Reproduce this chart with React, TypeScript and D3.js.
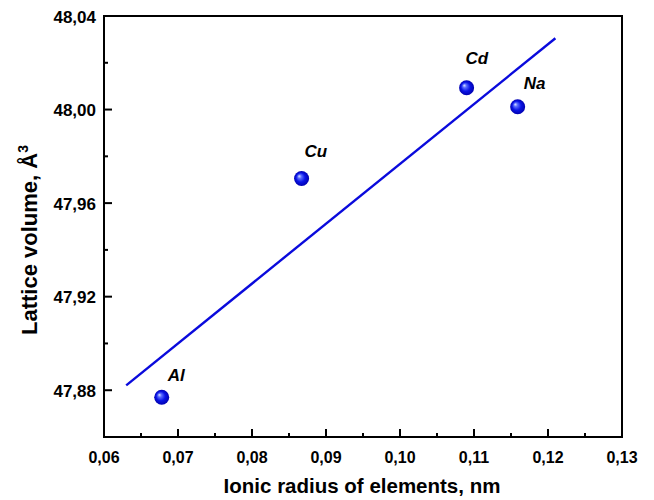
import React from "react";
import * as d3 from "d3";

// ---- data ----
const elements = ["Al", "Cu", "Cd", "Na"];
const ionicRadius = [0.0678, 0.0867, 0.109, 0.1159];
const latticeVolume = [47.877, 47.9705, 48.0093, 48.0012];
const fitX = [0.063, 0.121];
const fitY = [47.8821, 48.0305];
const xTicks = [0.06, 0.07, 0.08, 0.09, 0.1, 0.11, 0.12, 0.13];
const xMinorTicks = [0.065, 0.075, 0.085, 0.095, 0.105, 0.115, 0.125];
const yTicks = [47.88, 47.92, 47.96, 48.0, 48.04];
const yMinorTicks = [47.86, 47.9, 47.94, 47.98, 48.02];

// label offsets (layout)
const labelDx = [6, 3, -1, 6];
const labelDy = [-16, -22, -24, -18];

const W = 654;
const H = 500;
const left = 104;
const right = 622;
const top = 16;
const bottom = 437;
const FONT = "'Liberation Sans', Arial, Helvetica, sans-serif";

const fmt = (v: number) => d3.format(".2f")(v).replace(".", ",");

export default function App() {
  const x = d3.scaleLinear().domain([0.06, 0.13]).range([left, right]);
  const y = d3.scaleLinear().domain([47.86, 48.04]).range([bottom, top]);
  const line = d3
    .line<number>()
    .x((d) => x(d))
    .y((_, i) => y(fitY[i]));

  return (
    <svg
      width={W}
      height={H}
      style={{ position: "absolute", left: 0, top: 0, background: "#fff" }}
      fontFamily={FONT}
    >
      <defs>
        <radialGradient id="ball" cx="0.5" cy="0.5" r="0.5" fx="0.33" fy="0.33">
          <stop offset="0" stopColor="#e0e8ff" />
          <stop offset="0.25" stopColor="#5a6cff" />
          <stop offset="0.6" stopColor="#0a14e6" />
          <stop offset="1" stopColor="#0000b0" />
        </radialGradient>
      </defs>
      <rect x={0} y={0} width={W} height={H} fill="#fff" />

      {/* fit line */}
      <path d={line(fitX) || ""} fill="none" stroke="#0a0adc" strokeWidth={2.4} />

      {/* points */}
      {elements.map((e, i) => (
        <g key={e}>
          <circle cx={x(ionicRadius[i])} cy={y(latticeVolume[i])} r={7.5} fill="url(#ball)" />
          <text
            x={x(ionicRadius[i]) + labelDx[i]}
            y={y(latticeVolume[i]) + labelDy[i]}
            fontSize={17}
            fontWeight="bold"
            fontStyle="italic"
            fill="#000"
          >
            {e}
          </text>
        </g>
      ))}

      {/* frame */}
      <rect
        x={left}
        y={top}
        width={right - left}
        height={bottom - top}
        fill="none"
        stroke="#000"
        strokeWidth={2}
      />

      {/* x ticks */}
      {xTicks.map((t) => (
        <g key={"xt" + t}>
          <line x1={x(t)} x2={x(t)} y1={bottom} y2={bottom - 8} stroke="#000" strokeWidth={2} />
          <text x={x(t)} y={463} textAnchor="middle" fontSize={16} fontWeight="bold">
            {fmt(t)}
          </text>
        </g>
      ))}
      {xMinorTicks.map((t) => (
        <line key={"xm" + t} x1={x(t)} x2={x(t)} y1={bottom} y2={bottom - 4} stroke="#000" strokeWidth={2} />
      ))}

      {/* y ticks */}
      {yTicks.map((t) => (
        <g key={"yt" + t}>
          <line x1={left} x2={left + 8} y1={y(t)} y2={y(t)} stroke="#000" strokeWidth={2} />
          <text x={96} y={y(t) + 6.5} textAnchor="end" fontSize={17} fontWeight="bold">
            {fmt(t)}
          </text>
        </g>
      ))}
      {yMinorTicks.map((t) => (
        <line key={"ym" + t} x1={left} x2={left + 4} y1={y(t)} y2={y(t)} stroke="#000" strokeWidth={2} />
      ))}

      {/* axis titles */}
      <text x={362} y={493} textAnchor="middle" fontSize={20.5} fontWeight="bold">
        Ionic radius of elements, nm
      </text>
      <text
        transform={`translate(37,335) rotate(-90)`}
        textAnchor="start"
        fontSize={22}
        fontWeight="bold"
      >
        Lattice volume, Å
        <tspan dy={-9} fontSize={14}>
          3
        </tspan>
      </text>
    </svg>
  );
}
